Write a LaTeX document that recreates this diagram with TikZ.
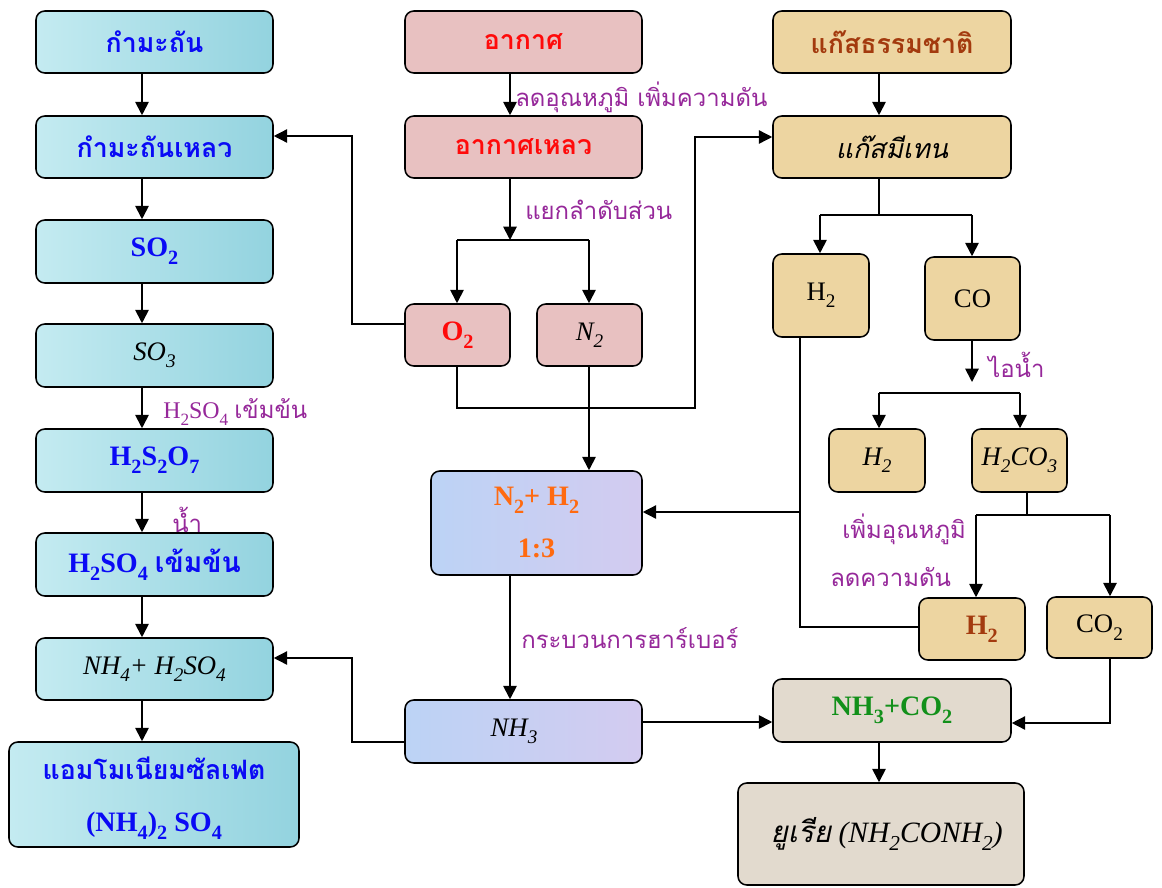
\documentclass[tikz,border=0pt]{standalone}
\usepackage{fontspec}
\setmainfont{Liberation Serif}
\newfontfamily\thai[Script=Thai]{Loma}
\usetikzlibrary{arrows.meta}

% chemical subscript: large and set well below the baseline
\newcommand\chs[1]{\raisebox{-0.6ex}{\scalebox{0.72}{#1}}}

\definecolor{tblue}{HTML}{0A0AF5}
\definecolor{tred}{HTML}{FF0A0A}
\definecolor{tbrown}{HTML}{A33A0E}
\definecolor{torange}{HTML}{FF6A10}
\definecolor{tgreen}{HTML}{12901A}
\definecolor{tpurple}{HTML}{96289A}
\definecolor{cyanL}{HTML}{C4EBF1}
\definecolor{cyanR}{HTML}{93D3DF}
\definecolor{pinkF}{HTML}{E8C1C1}
\definecolor{tanF}{HTML}{EDD5A1}
\definecolor{lavL}{HTML}{BCD3F5}
\definecolor{lavR}{HTML}{D3CBF0}
\definecolor{greyF}{HTML}{E2DACE}

\tikzset{
  sz/.style 2 args={minimum width=#1*0.025cm, minimum height=#2*0.025cm},
  base/.style={draw=black, line width=1.1pt, rounded corners=0.22cm, inner sep=0pt, align=center},
  cbox/.style={base, left color=cyanL, right color=cyanR, text=tblue},
  pbox/.style={base, fill=pinkF},
  tbox/.style={base, fill=tanF},
  lbox/.style={base, left color=lavL, right color=lavR},
  gbox/.style={base, fill=greyF},
  thaititle/.style={font=\thai\bfseries\fontsize{19}{22}\selectfont},
  thaiital/.style={font=\thai\itshape\fontsize{19}{22}\selectfont},
  fbold/.style={font=\bfseries\fontsize{20}{24}\selectfont},
  fital/.style={font=\itshape\fontsize{19}{22}\selectfont},
  freg/.style={font=\fontsize{19}{22}\selectfont},
  furea/.style={font=\itshape\fontsize{21}{24}\selectfont},
  lab/.style={text=tpurple, anchor=west, inner sep=0pt, font=\fontsize{17}{20}\selectfont},
  arr/.style={line width=1.3pt, -{Triangle[length=9.5pt,width=9.5pt]}},
  arrthin/.style={line width=1pt, -{Triangle[length=9.5pt,width=9.5pt]}},
  ln/.style={line width=1pt},
}

\begin{document}
\begin{tikzpicture}[x=0.025cm,y=-0.025cm]
\useasboundingbox (0,0) rectangle (1162,887);
\fill[white] (0,0) rectangle (1162,887);

% ---- sulfur line (left column)
\coordinate (lx) at (142,0);
\node[cbox,sz={237}{62},thaititle] (k1) at (154.5,42) {กำมะถัน};
\node[cbox,sz={237}{62},thaititle] (k2) at (154.5,147) {กำมะถันเหลว};
\node[cbox,sz={237}{63},fbold] (k3) at (154.5,251.5) {SO\chs{2}};
\node[cbox,sz={237}{63},fital,text=black] (k4) at (154.5,355.5) {SO\chs{3}};
\node[cbox,sz={237}{63},fbold] (k5) at (154.5,460.5) {H\chs{2}S\chs{2}O\chs{7}};
\node[cbox,sz={237}{63},fbold] (k6) at (154.5,564.5) {H\chs{2}SO\chs{4} {\thai เข้มข้น}};
\node[cbox,sz={237}{62},fital,text=black] (k7) at (154.5,669) {NH\chs{4}+ H\chs{2}SO\chs{4}};
\node[cbox,sz={290}{105}] (k8) at (154,794.5) {};
\node[thaititle,text=tblue] (k8a) at (154,768) {แอมโมเนียมซัลเฟต};
\node[fbold,text=tblue] (k8b) at (154,826) {(NH\chs{4})\chs{2} SO\chs{4}};

\foreach \a/\b in {k1/k2,k2/k3,k3/k4,k4/k5,k5/k6,k6/k7,k7/k8}
  \draw[arr] (\a.south -| lx) -- (\b.north -| lx);
\node[lab] (l1) at (163,412) {H\chs{2}SO\chs{4} {\thai เข้มข้น}};
\node[lab] (l2) at (172,520) {\thai น้ำ};

% ---- air line (middle column)
\coordinate (mx) at (510,0);
\node[pbox,sz={237}{62},thaititle,text=tred] (a1) at (523.5,42) {อากาศ};
\node[pbox,sz={237}{62},thaititle,text=tred] (a2) at (523.5,147) {อากาศเหลว};
\node[pbox,sz={105}{62},fbold,text=tred] (o2) at (457.5,335) {O\chs{2}};
\node[pbox,sz={105}{62},fital,text=black] (n2) at (589.5,335) {N\chs{2}};
\node[lbox,sz={211}{104}] (nh) at (536.5,523) {};
\node[fbold,text=torange] (nha) at (536.5,500) {N\chs{2}+ H\chs{2}};
\node[fbold,text=torange] (nhb) at (536.5,548) {1:3};
\node[lbox,sz={237}{63}] (nh3box) at (523.5,731.5) {};
\node[fital,text=black] (nh3t) at (514,731.5) {NH\chs{3}};

% ---- natural gas line (right column)
\coordinate (rx) at (879,0);
\node[tbox,sz={238}{62},thaititle,text=tbrown] (g1) at (892,42) {แก๊สธรรมชาติ};
\node[tbox,sz={238}{62},thaiital] (g2) at (892,147) {แก๊สมีเทน};
\node[tbox,sz={96}{83},freg] (h2a) at (821,295.5) {H\chs{2}};
\node[tbox,sz={95}{83},freg] (co) at (972.5,298.5) {CO};
\node[tbox,sz={96}{63},fital] (h2b) at (877,460.5) {H\chs{2}};
\node[tbox,sz={95}{63},fital] (h2co3) at (1019.5,460.5) {H\chs{2}CO\chs{3}};
\node[tbox,sz={106}{62},fbold,text=tbrown] (h2c) at (972,629) {\hspace{14pt}H\chs{2}};
\node[tbox,sz={105}{61},freg] (co2) at (1099.5,627.5) {CO\chs{2}};
\node[gbox,sz={238}{63},fbold,text=tgreen] (nc) at (892,710.5) {NH\chs{3}+CO\chs{2}};
\node[gbox,sz={286}{102},furea] (urea) at (881,834) {\hspace{8pt}{\thai ยูเรีย} (NH\chs{2}CONH\chs{2})};

% ---- connectors of the air line
\draw[arr] (a1.south -| mx) -- (a2.north -| mx);
\node[lab] (l3) at (515,97) {\thai ลดอุณหภูมิ เพิ่มความดัน};
\coordinate (s1) at (510,240);
\coordinate (s1l) at (457,240);
\coordinate (s1r) at (589,240);
\draw[arr] (a2.south -| mx) -- (s1);
\draw[ln] (s1l) -- (s1r);
\draw[arr] (s1l) -- (o2.north -| s1l);
\draw[arr] (s1r) -- (n2.north -| s1r);
\node[lab] (l4) at (525,210) {\thai แยกลำดับส่วน};

\coordinate (c1) at (352,324);
\coordinate (c2) at (352,136);
\draw[arrthin] (o2.west |- c1) -- (c1) -- (c2) -- (k2.east |- c2);
\coordinate (c3) at (457,408);
\coordinate (c4) at (695,408);
\coordinate (c5) at (695,137);
\draw[arrthin] (o2.south -| c3) -- (c3) -- (c4) -- (c5) -- (g2.west |- c5);

\draw[arr] (n2.south -| s1r) -- (nh.north -| s1r);
\draw[arr] (nh.south -| mx) -- (nh3box.north -| mx);
\node[lab] (l5) at (521,638) {\thai กระบวนการฮาร์เบอร์};

\coordinate (c6) at (352,742);
\coordinate (c7) at (352,658);
\draw[arrthin] (nh3box.west |- c6) -- (c6) -- (c7) -- (k7.east |- c7);

% ---- connectors of the natural gas line
\draw[arr] (g1.south -| rx) -- (g2.north -| rx);
\coordinate (s2) at (879,215);
\coordinate (s2l) at (820,215);
\coordinate (s2r) at (972,215);
\draw[ln] (g2.south -| rx) -- (s2);
\draw[ln] (s2l) -- (s2r);
\draw[arr] (s2l) -- (h2a.north -| s2l);
\draw[arr] (s2r) -- (co.north -| s2r);

\coordinate (c9) at (972,382);
\draw[arr] (co.south -| c9) -- (c9);
\node[lab] (l6) at (988,365) {\thai ไอน้ำ};
\coordinate (s3l) at (879,393);
\coordinate (s3r) at (1020,393);
\draw[ln] (s3l) -- (s3r);
\draw[arr] (s3l) -- (h2b.north -| s3l);
\draw[arr] (s3r) -- (h2co3.north -| s3r);

\coordinate (s4) at (1027,515);
\coordinate (s4l) at (976,515);
\coordinate (s4r) at (1110,515);
\draw[ln] (h2co3.south -| s4) -- (s4);
\draw[ln] (s4l) -- (s4r);
\draw[arr] (s4l) -- (h2c.north -| s4l);
\draw[arr] (s4r) -- (co2.north -| s4r);
\node[lab] (l7) at (842,529) {\thai เพิ่มอุณหภูมิ};
\node[lab] (l8) at (830,577) {\thai ลดความดัน};

\coordinate (c10) at (800,627);
\coordinate (c11) at (800,512);
\draw[ln] (h2a.south -| c10) -- (c10) -- (h2c.west |- c10);
\draw[arrthin] (c11) -- (nh.east |- c11);

\coordinate (c8) at (700,722);
\draw[arr] (nh3box.east |- c8) -- (nc.west |- c8);
\coordinate (c12) at (1110,723);
\draw[arrthin] (co2.south -| c12) -- (c12) -- (nc.east |- c12);
\draw[arr] (nc.south -| rx) -- (urea.north -| rx);
\end{tikzpicture}
\end{document}
